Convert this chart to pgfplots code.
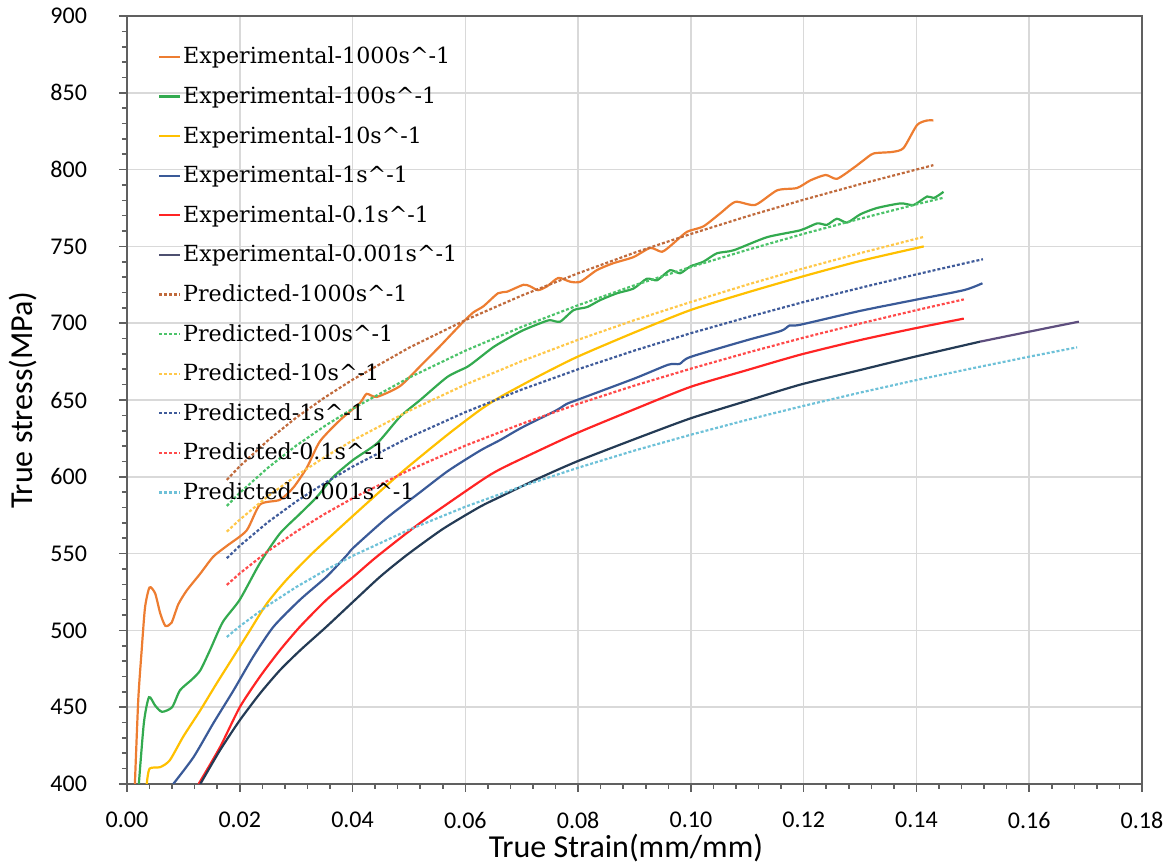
\documentclass[border=0pt]{standalone}
\usepackage{fontspec}
\setmainfont{Carlito}
\newfontfamily\legfont{DejaVu Serif}
\usepackage{pgfplots}
\pgfplotsset{compat=1.18}
\definecolor{axgray}{HTML}{606060}
\definecolor{gridgray}{HTML}{D9D9D9}
\definecolor{cOr}{HTML}{ED7D31}
\definecolor{cGr}{HTML}{33AA4F}
\definecolor{cYe}{HTML}{FFC000}
\definecolor{cBl}{HTML}{3A5A98}
\definecolor{cRe}{HTML}{FF2424}
\definecolor{cNv}{HTML}{243B55}
\definecolor{cNvL}{HTML}{4E5070}
\definecolor{cPu}{HTML}{5E4E7E}
\definecolor{pOr}{HTML}{C06A3C}
\definecolor{pGr}{HTML}{4CC36A}
\definecolor{pYe}{HTML}{FFC84A}
\definecolor{pBl}{HTML}{3F5B9A}
\definecolor{pRe}{HTML}{FF4A4A}
\definecolor{pCy}{HTML}{6EC1D8}
\begin{document}
\begin{tikzpicture}
\useasboundingbox (-63.5pt,-41.5pt) rectangle (523pt,392pt);
\begin{axis}[
  at={(0pt,0pt)}, anchor=south west,
  scale only axis, width=507.5pt, height=384pt,
  xmin=0, xmax=0.18, ymin=400, ymax=900,
  xtick={0,0.02,0.04,0.06,0.08,0.10,0.12,0.14,0.16,0.18},
  ytick={400,450,500,550,600,650,700,750,800,850,900},
  minor x tick num=4, minor y tick num=4,
  tick align=outside, tick pos=left,
  major tick length=4pt, minor tick length=2.5pt,
  axis line style={draw=axgray, line width=1pt},
  every tick/.style={axgray, line width=0.8pt},
  grid=major, major grid style={gridgray, line width=0.8pt},
  xlabel={True Strain(mm/mm)}, ylabel={True stress(MPa)},
  label style={font=\fontsize{16}{19}\selectfont},
  xlabel style={at={(axis description cs:0.4916,-0.0833)}, anchor=center},
  ylabel style={at={(axis description cs:-0.1025,0.5)}, anchor=center},
  ticklabel style={font=\fontsize{12}{14}\selectfont},
  /pgf/number format/assume math mode=true,
  scaled x ticks=false,
  xticklabel style={yshift=-6.5pt, /pgf/number format/.cd, fixed, fixed zerofill, precision=2},
  yticklabel style={xshift=-12.5pt, /pgf/number format/.cd, fixed, precision=0},
  legend cell align=left,
  legend style={at={(0.0305,0.969)}, anchor=north west, draw=none, fill=none,
    inner sep=0pt, outer sep=0pt, row sep=2.8pt,
    font=\legfont\fontsize{11.1}{13}\selectfont,
    nodes={inner sep=1pt, text height=11pt, text depth=4pt}},
  legend image code/.code={\draw[#1] (0pt,0pt) -- (10.5pt,0pt);},
  every axis plot/.append style={line width=1.1pt},
]
% Experimental 1000
\addplot[cOr, smooth, tension=0.4] coordinates {
(0.0014,400) (0.0020,455) (0.0026,487) (0.0032,515) (0.0040,528) (0.0050,524)
(0.0059,511) (0.0068,503) (0.0079,505) (0.0091,517) (0.0106,526) (0.0130,537)
(0.0153,548) (0.0177,555) (0.0212,565) (0.0236,582) (0.0271,585) (0.0295,593)
(0.0319,606) (0.0342,623) (0.0378,637) (0.0413,648) (0.0425,654) (0.0443,652)
(0.0484,659) (0.0520,672) (0.0555,685) (0.0594,700) (0.0614,707) (0.0632,711)
(0.0658,719.5) (0.0674,720.5) (0.0703,725) (0.0715,724) (0.0729,721.5) (0.0745,724)
(0.0765,729.5) (0.0786,727) (0.0804,727) (0.0833,734.5) (0.0862,739) (0.0898,743)
(0.0928,749) (0.0949,746.5) (0.0969,752) (0.0993,759.5) (0.1022,763) (0.1052,771.5)
(0.1079,779) (0.1114,777) (0.1153,786.5) (0.1188,788) (0.1212,793) (0.1239,796.5)
(0.1259,794) (0.1288,801) (0.1306,806) (0.1324,810.5) (0.1357,811.5) (0.1377,814)
(0.1401,829) (0.1419,832) (0.1430,832)};
\addlegendentry{Experimental-1000s\textasciicircum-1}
% Experimental 100
\addplot[cGr, smooth, tension=0.4] coordinates {
(0.0021,400) (0.0030,440) (0.0039,456.5) (0.0050,451) (0.0062,447) (0.0080,450)
(0.0094,461) (0.0115,468) (0.0130,474) (0.0147,487) (0.0170,505.5) (0.0200,520)
(0.0236,544) (0.0271,563) (0.0307,576) (0.0337,587) (0.0366,600) (0.0401,611)
(0.0444,622) (0.0484,639) (0.0520,650) (0.0568,665) (0.0603,671.5) (0.0620,676)
(0.0650,684.5) (0.0680,691) (0.0703,695.5) (0.0733,700) (0.0750,702) (0.0768,701)
(0.0792,708.5) (0.0816,710.5) (0.0839,715) (0.0869,719.5) (0.0898,722.5) (0.0922,729)
(0.0940,728) (0.0963,734.5) (0.0981,732.5) (0.0999,737) (0.1022,740) (0.1046,745.5)
(0.1076,747.5) (0.1135,756) (0.1194,760.5) (0.1224,765) (0.1241,764) (0.1259,768)
(0.1277,765.5) (0.1301,771) (0.1330,775) (0.1372,778) (0.1395,777) (0.1419,782.5)
(0.1431,781.5) (0.1448,785.5)};
\addlegendentry{Experimental-100s\textasciicircum-1}
% Experimental 10
\addplot[cYe, smooth, tension=0.4] coordinates {
(0.0035,400) (0.0040,410) (0.0059,411) (0.0076,415.5) (0.0100,431) (0.0130,448)
(0.0159,465.5) (0.0189,483) (0.0218,500) (0.0248,517.5) (0.0283,533) (0.0331,551)
(0.0402,575) (0.0484,602) (0.0567,627) (0.0626,643.5) (0.0662,652) (0.0730,665.5)
(0.0798,678) (0.0900,694) (0.0999,708.5) (0.1100,720) (0.1194,730) (0.1300,740.5)
(0.1413,750)};
\addlegendentry{Experimental-10s\textasciicircum-1}
% Experimental 1
\addplot[cBl, smooth, tension=0.4] coordinates {
(0.0082,400) (0.0118,417.5) (0.0153,439.5) (0.0189,461) (0.0224,483) (0.0260,502.5)
(0.0307,520) (0.0354,535) (0.0390,549) (0.0402,554) (0.0460,573) (0.0520,590)
(0.0570,604) (0.0626,617) (0.0662,624) (0.0700,632) (0.0760,643) (0.0780,647.5)
(0.0798,650) (0.0900,664) (0.0960,673) (0.0980,673.5) (0.0999,678) (0.1100,689)
(0.1160,695) (0.1175,698.5) (0.1194,699) (0.1300,708) (0.1395,715) (0.1484,721.5)
(0.1517,726)};
\addlegendentry{Experimental-1s\textasciicircum-1}
% Experimental 0.1
\addplot[cRe, smooth, tension=0.4] coordinates {
(0.0127,400) (0.0165,424) (0.0200,450) (0.0236,470) (0.0271,487) (0.0307,502.5)
(0.0354,520) (0.0402,535) (0.0443,548) (0.0520,570) (0.0626,597) (0.0662,605)
(0.0730,617) (0.0798,628.5) (0.0900,644) (0.0999,658.5) (0.1100,669.5) (0.1194,679.5)
(0.1300,689) (0.1395,696.5) (0.1484,703)};
\addlegendentry{Experimental-0.1s\textasciicircum-1}
% Experimental 0.001
\addplot[cNv, smooth, tension=0.4, forget plot] coordinates {
(0.0130,400) (0.0165,422) (0.0200,441.5) (0.0236,459) (0.0271,474) (0.0307,487)
(0.0354,502.5) (0.0402,519) (0.0449,535) (0.0496,549) (0.0560,566) (0.0626,580.5)
(0.0662,587) (0.0730,599) (0.0798,610) (0.0900,624.5) (0.0999,638) (0.1100,649.5)
(0.1194,660) (0.1300,669.5) (0.1395,678) (0.1513,688)};
\addplot[cPu, smooth, tension=0.4, forget plot] coordinates {
(0.1513,688) (0.1600,694.5) (0.1688,701)};
\addlegendimage{cNvL, line width=1.1pt}
\addlegendentry{Experimental-0.001s\textasciicircum-1}
% Predicted
\addplot[pOr, dash pattern=on 1.5pt off 1pt] coordinates {
(0.0177,598) (0.02,606.9) (0.025,623.7) (0.03,638.5) (0.035,651.5) (0.04,663.2)
(0.05,684) (0.06,702) (0.07,718) (0.08,732.5) (0.09,745.9) (0.10,758.1)
(0.11,769.6) (0.12,780.4) (0.13,790.5) (0.143,802.9)};
\addlegendentry{Predicted-1000s\textasciicircum-1}
\addplot[pGr, dash pattern=on 1.5pt off 1pt] coordinates {
(0.0177,581) (0.02,589.6) (0.025,605.9) (0.03,620.3) (0.035,632.9) (0.04,644.3)
(0.05,664.5) (0.06,682.1) (0.07,697.6) (0.08,711.7) (0.09,724.7) (0.10,736.6)
(0.11,747.7) (0.12,758.2) (0.13,768) (0.14,777.4) (0.1448,781.7)};
\addlegendentry{Predicted-100s\textasciicircum-1}
\addplot[pYe, dash pattern=on 1.5pt off 1pt] coordinates {
(0.0177,564.3) (0.02,572.1) (0.025,587.4) (0.03,600.6) (0.035,612.7) (0.04,623.6)
(0.05,642.9) (0.06,660) (0.07,675.3) (0.08,689.2) (0.09,702) (0.10,713.8)
(0.11,725.1) (0.12,735.7) (0.13,745.6) (0.1414,756.3)};
\addlegendentry{Predicted-10s\textasciicircum-1}
\addplot[pBl, dash pattern=on 1.5pt off 1pt] coordinates {
(0.0177,547) (0.02,555.1) (0.025,570.5) (0.03,583.9) (0.035,595.8) (0.04,606.6)
(0.05,625.6) (0.06,642.1) (0.07,656.8) (0.08,670) (0.09,682.2) (0.10,693.5)
(0.11,703.9) (0.12,713.8) (0.13,723) (0.14,731.8) (0.15,740.2) (0.1518,741.6)};
\addlegendentry{Predicted-1s\textasciicircum-1}
\addplot[pRe, dash pattern=on 1.5pt off 1pt] coordinates {
(0.0177,529.6) (0.02,537.1) (0.025,551.6) (0.03,564.3) (0.035,575.7) (0.04,586)
(0.05,604.3) (0.06,620.3) (0.07,634.5) (0.08,647.5) (0.09,659.4) (0.10,670.4)
(0.11,680.8) (0.12,690.6) (0.13,699.8) (0.14,708.5) (0.1484,715.5)};
\addlegendentry{Predicted-0.1s\textasciicircum-1}
\addplot[pCy, dash pattern=on 1.5pt off 1pt] coordinates {
(0.0177,495.7) (0.02,502.7) (0.025,516.3) (0.03,528.2) (0.035,538.8) (0.04,548.5)
(0.05,565.5) (0.06,580.5) (0.07,593.8) (0.08,605.9) (0.09,617.1) (0.10,627.4)
(0.11,637.1) (0.12,646.2) (0.13,654.8) (0.14,663) (0.15,670.7) (0.16,678.2)
(0.1685,684.3)};
\addlegendentry{Predicted-0.001s\textasciicircum-1}
\end{axis}
\end{tikzpicture}
\end{document}
